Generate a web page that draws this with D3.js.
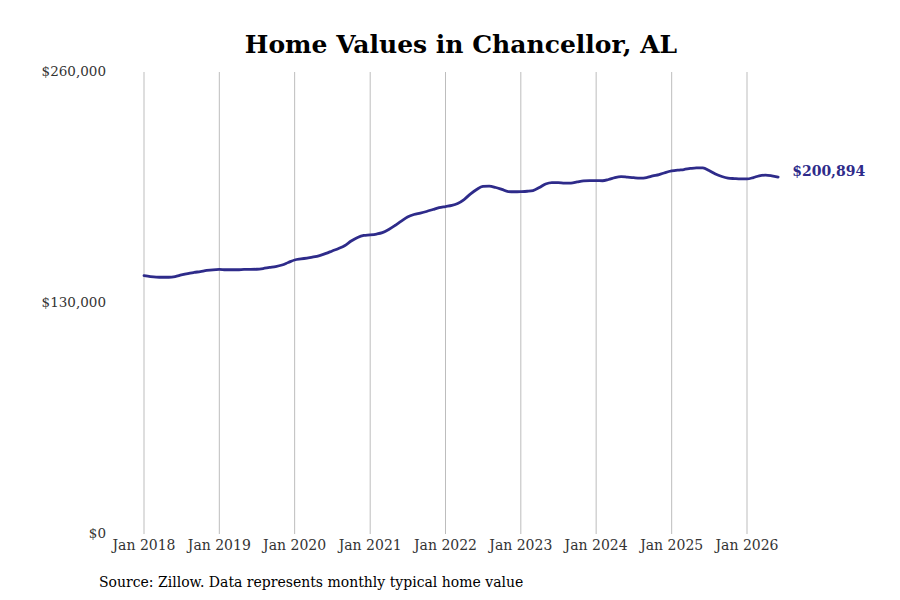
<!DOCTYPE html>
<html>
<head>
<meta charset="utf-8">
<script src="https://cdn.jsdelivr.net/npm/d3@7"></script>
<style>
  body { margin: 0; background: #fff; }
  text { font-family: "DejaVu Serif", serif; }
</style>
</head>
<body>
<div id="chart"></div>
<script>
        let width = 900;
        let height = 600;

        // data: monthly typical home value, Jan 2018 .. Jun 2026
        let startMonth = new Date(2018, 0, 1);
        let homeValues = [
            145400, 144900, 144600, 144500, 144500, 144900, 145800, 146600, 147200, 147700, 148300, 148700,
            148900, 148700, 148700, 148700, 148900, 148900, 149000, 149400, 150000, 150500, 151400, 152800,
            154200, 154800, 155300, 155900, 156700, 157900, 159300, 160700, 162400, 164900, 166900, 168000,
            168300, 168800, 169600, 171400, 173600, 176100, 178400, 179800, 180600, 181500, 182600, 183700,
            184300, 184900, 186000, 188200, 191300, 193900, 195600, 195800, 195000, 193900, 192700, 192600,
            192700, 192900, 193300, 195000, 197000, 197800, 197800, 197500, 197500, 198100, 198700, 198900,
            198900, 198800, 199500, 200600, 201100, 200800, 200500, 200300, 200600, 201500, 202300, 203400,
            204300, 204800, 205100, 205700, 206100, 206000, 204600, 202600, 201200, 200300, 200000, 199800,
            199800, 200600, 201600, 202000, 201600, 200894
        ];
        let yTicks = [0, 130000, 260000];
        let xTickYears = [2018, 2019, 2020, 2021, 2022, 2023, 2024, 2025, 2026];

        let lineColor = "#2e2b8a";

        let data = homeValues.map((v, i) => ({
            date: new Date(startMonth.getFullYear(), startMonth.getMonth() + i, 1),
            value: v
        }));

        const svg = d3.select("#chart")
            .append("svg")
            .attr("width", width)
            .attr("height", height);

        let x = d3.scaleTime()
            .domain([new Date(2018, 0, 1), new Date(2026, 0, 1)])
            .range([144, 747]);

        let y = d3.scaleLinear()
            .domain([0, 260000])
            .range([534, 72]);

        // title
        svg.append("text")
            .attr("x", 461)
            .attr("y", 53)
            .attr("text-anchor", "middle")
            .style("font-size", "25px")
            .style("font-weight", "bold")
            .attr("fill", "#000")
            .text("Home Values in Chancellor, AL");

        // vertical grid
        svg.append("g")
            .selectAll("line")
            .data(xTickYears)
            .join("line")
            .attr("x1", d => x(new Date(d, 0, 1)))
            .attr("x2", d => x(new Date(d, 0, 1)))
            .attr("y1", y(260000))
            .attr("y2", y(0))
            .attr("stroke", "#bdbdbd")
            .attr("stroke-width", 1);

        // x labels
        svg.append("g")
            .selectAll("text")
            .data(xTickYears)
            .join("text")
            .attr("x", d => x(new Date(d, 0, 1)))
            .attr("y", 550)
            .attr("text-anchor", "middle")
            .style("font-size", "14px")
            .attr("fill", "#333")
            .text(d => "Jan " + d);

        // y labels
        svg.append("g")
            .selectAll("text")
            .data(yTicks)
            .join("text")
            .attr("x", 106)
            .attr("y", d => y(d))
            .attr("dy", "0.3em")
            .attr("text-anchor", "end")
            .style("font-size", "13.5px")
            .attr("fill", "#333")
            .text(d => d3.format("$,")(d));

        // line
        let line = d3.line()
            .x(d => x(d.date))
            .y(d => y(d.value))
            .curve(d3.curveMonotoneX);

        svg.append("path")
            .datum(data)
            .attr("d", line)
            .attr("fill", "none")
            .attr("stroke", lineColor)
            .attr("stroke-width", 2.8)
            .attr("stroke-linejoin", "round")
            .attr("stroke-linecap", "round");

        // end label
        let last = data[data.length - 1];
        svg.append("text")
            .attr("x", x(last.date) + 14)
            .attr("y", y(last.value) - 6)
            .attr("dy", "0.35em")
            .style("font-size", "14px")
            .style("font-weight", "bold")
            .attr("fill", lineColor)
            .text(d3.format("$,")(last.value));

        // source
        svg.append("text")
            .attr("x", 99)
            .attr("y", 587)
            .style("font-size", "14px")
            .attr("fill", "#000")
            .text("Source: Zillow. Data represents monthly typical home value");
</script>
</body>
</html>
